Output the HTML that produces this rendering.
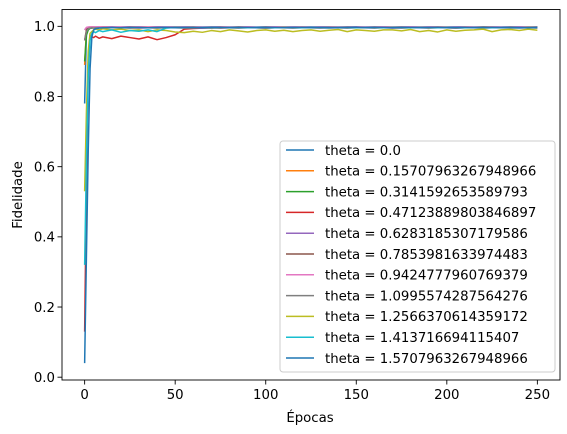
<!DOCTYPE html>
<html><head><meta charset="utf-8">
<style>
html,body{margin:0;padding:0;background:#fff;}
svg{display:block;font-family:"DejaVu Sans","Liberation Sans",sans-serif;}
</style></head>
<body>
<svg id="chart" width="567" height="434" viewBox="0 0 567 434">
<rect x="0" y="0" width="567" height="434" fill="#fff"/>
<g id="plot"></g>
<g id="axes"></g>
<g id="legend"></g>
<text x="310" y="422" font-size="13.3" text-anchor="middle">Épocas</text>
<text transform="translate(22,195) rotate(-90)" font-size="13.3" text-anchor="middle">Fidelidade</text>
</svg>
<script>
const epochs = [0,1,2,3,4,5,6,8,
10,15,20,25,30,35,40,45,50,55,60,65,70,75,80,85,90,95,100,105,110,115,120,125,130,135,140,145,150,155,160,165,170,175,180,185,190,195,200,205,210,215,220,225,230,235,240,245,250];
const thetaLabels = ["0.0","0.15707963267948966","0.3141592653589793","0.47123889803846897","0.6283185307179586","0.7853981633974483","0.9424777960769379","1.0995574287564276","1.2566370614359172","1.413716694115407","1.5707963267948966"];
const colors = ["#1f77b4","#ff7f0e","#2ca02c","#d62728","#9467bd","#8c564b","#e377c2","#7f7f7f","#bcbd22","#17becf","#1f77b4"];
const s0 = [0.78,0.985,0.995,0.997,0.998,0.997,0.998,0.998,
0.998,0.997,0.998,0.999,0.998,0.997,0.998,0.998,0.999,0.998,0.997,0.998,0.998,0.999,0.998,0.997,0.998,0.998,0.999,0.998,0.998,0.997,0.998,0.999,0.998,0.998,0.997,0.998,0.999,0.998,0.998,0.997,0.998,0.998,0.999,0.998,0.997,0.998,0.998,0.999,0.998,0.998,0.997,0.998,0.999,0.998,0.998,0.997,0.998];
const s1 = [0.89,0.99,0.996,0.997,0.998,0.998,0.997,0.998,
0.998,0.998,0.997,0.998,0.999,0.998,0.998,0.997,0.998,0.999,0.998,0.998,0.997,0.998,0.998,0.999,0.998,0.997,0.998,0.998,0.999,0.998,0.998,0.997,0.998,0.998,0.999,0.998,0.997,0.998,0.998,0.999,0.998,0.998,0.997,0.998,0.999,0.998,0.998,0.997,0.998,0.998,0.999,0.998,0.997,0.998,0.998,0.999,0.998];
const s2 = [0.90,0.975,0.99,0.994,0.995,0.996,0.995,0.996,
0.996,0.997,0.996,0.997,0.996,0.997,0.997,0.996,0.997,0.997,0.998,0.997,0.996,0.997,0.997,0.998,0.997,0.997,0.996,0.997,0.997,0.998,0.997,0.996,0.997,0.997,0.998,0.997,0.997,0.996,0.997,0.998,0.997,0.997,0.996,0.997,0.997,0.998,0.997,0.997,0.996,0.997,0.998,0.997,0.997,0.996,0.997,0.997,0.997];
const s3 = [0.13,0.55,0.90,0.975,0.970,0.968,0.972,0.966,
0.970,0.965,0.972,0.968,0.964,0.970,0.962,0.968,0.976,0.992,0.994,0.995,0.996,0.995,0.996,0.996,0.997,0.996,0.996,0.997,0.996,0.996,0.997,0.996,0.997,0.996,0.996,0.997,0.996,0.996,0.997,0.996,0.997,0.996,0.996,0.997,0.996,0.996,0.997,0.996,0.997,0.996,0.996,0.997,0.996,0.996,0.997,0.996,0.996];
const s4 = [0.99,0.996,0.997,0.996,0.997,0.996,0.997,0.996,
0.997,0.996,0.997,0.996,0.995,0.996,0.997,0.996,0.996,0.997,0.996,0.995,0.996,0.997,0.996,0.996,0.997,0.996,0.995,0.996,0.997,0.996,0.996,0.997,0.996,0.995,0.996,0.997,0.996,0.996,0.997,0.996,0.995,0.996,0.997,0.996,0.996,0.997,0.996,0.995,0.996,0.997,0.996,0.996,0.997,0.996,0.995,0.996,0.997];
const s5 = [0.96,0.99,0.996,0.997,0.997,0.998,0.997,0.997,
0.998,0.997,0.997,0.998,0.997,0.997,0.998,0.997,0.997,0.998,0.997,0.997,0.998,0.997,0.997,0.998,0.997,0.997,0.998,0.997,0.997,0.998,0.997,0.997,0.998,0.997,0.997,0.998,0.997,0.997,0.998,0.997,0.997,0.998,0.997,0.997,0.998,0.997,0.997,0.998,0.997,0.997,0.998,0.997,0.997,0.998,0.997,0.997,0.998];
const s6 = [0.99,0.997,0.998,0.999,0.998,0.999,0.998,0.999,
0.998,0.999,0.998,0.998,0.999,0.998,0.999,0.998,0.998,0.999,0.998,0.999,0.998,0.998,0.999,0.998,0.999,0.998,0.998,0.999,0.998,0.999,0.998,0.998,0.999,0.998,0.999,0.998,0.998,0.999,0.998,0.999,0.998,0.998,0.999,0.998,0.999,0.998,0.998,0.999,0.998,0.999,0.998,0.998,0.999,0.998,0.999,0.998,0.998];
const s7 = [0.96,0.985,0.993,0.995,0.996,0.995,0.996,0.996,
0.995,0.996,0.996,0.995,0.996,0.996,0.995,0.996,0.996,0.995,0.996,0.996,0.995,0.996,0.996,0.995,0.996,0.996,0.995,0.996,0.996,0.995,0.996,0.996,0.995,0.996,0.996,0.995,0.996,0.996,0.995,0.996,0.996,0.995,0.996,0.996,0.995,0.996,0.996,0.995,0.996,0.996,0.995,0.996,0.996,0.995,0.996,0.996,0.995];
const s8 = [0.53,0.76,0.93,0.98,0.985,0.99,0.992,0.99,
0.993,0.99,0.992,0.988,0.99,0.985,0.99,0.988,0.984,0.982,0.986,0.983,0.988,0.985,0.99,0.987,0.984,0.988,0.99,0.986,0.989,0.985,0.988,0.99,0.986,0.989,0.991,0.985,0.99,0.988,0.986,0.99,0.99,0.987,0.991,0.985,0.988,0.984,0.99,0.986,0.989,0.99,0.992,0.985,0.99,0.991,0.988,0.992,0.989];
const s9 = [0.32,0.62,0.86,0.96,0.98,0.985,0.982,0.988,
0.985,0.99,0.983,0.988,0.986,0.99,0.985,0.995,0.997,0.997,0.996,0.997,0.997,0.996,0.997,0.997,0.996,0.997,0.997,0.996,0.997,0.997,0.996,0.997,0.997,0.996,0.997,0.997,0.996,0.997,0.997,0.996,0.997,0.997,0.996,0.997,0.997,0.996,0.997,0.997,0.996,0.997,0.997,0.996,0.997,0.997,0.996,0.997,0.997];
const s10 = [0.04,0.35,0.65,0.88,0.97,0.99,0.993,0.995,
0.996,0.997,0.996,0.997,0.997,0.996,0.997,0.997,0.996,0.997,0.997,0.996,0.997,0.997,0.996,0.997,0.997,0.996,0.997,0.997,0.996,0.997,0.997,0.996,0.997,0.997,0.996,0.997,0.997,0.996,0.997,0.997,0.996,0.997,0.997,0.996,0.997,0.997,0.996,0.997,0.997,0.996,0.997,0.997,0.996,0.997,0.997,0.996,0.997];
const series = [s0,s1,s2,s3,s4,s5,s6,s7,s8,s9,s10];
const xTicks = [0,50,100,150,200,250];
const yTicks = [0.0,0.2,0.4,0.6,0.8,1.0];
const yTickLabels = ["0.0","0.2","0.4","0.6","0.8","1.0"];

const NS="http://www.w3.org/2000/svg";
const L=62,R=560,T=9.5,B=380;
const xMin=-12.5,xMax=262.5,yMin=-0.008,yMax=1.048;
const X=v=>L+(v-xMin)/(xMax-xMin)*(R-L);
const Y=v=>B-(v-yMin)/(yMax-yMin)*(B-T);
function mk(tag,attrs,parent){const e=document.createElementNS(NS,tag);for(const k in attrs)e.setAttribute(k,attrs[k]);parent.appendChild(e);return e;}

const plot=document.getElementById('plot');
series.forEach((ys,si)=>{
  const n=Math.min(ys.length,epochs.length);
  let d='';
  for(let i=0;i<n;i++)d+=(i?'L':'M')+X(epochs[i]).toFixed(2)+' '+Y(ys[i]).toFixed(2);
  const p=mk('path',{d:d,fill:'none',stroke:colors[si],'stroke-width':1.5,'stroke-linejoin':'round'},plot);
  
  
});

const axes=document.getElementById('axes');
const frame=mk('rect',{x:L,y:T,width:R-L,height:B-T,fill:'none',stroke:'#000','stroke-width':0.9},axes);


xTicks.forEach(t=>{
  const x=X(t);
  const tk=mk('line',{x1:x,x2:x,y1:B,y2:B+4.5,stroke:'#000','stroke-width':0.9},axes);
  
  
  const tx=mk('text',{x:x,y:B+19,'font-size':13.3,'text-anchor':'middle'},axes);
  tx.textContent=String(t);
  
  
});
yTicks.forEach((t,i)=>{
  const y=Y(t);
  const tk=mk('line',{x1:L-4.5,x2:L,y1:y,y2:y,stroke:'#000','stroke-width':0.9},axes);
  
  
  const tx=mk('text',{x:L-7,y:y+4.8,'font-size':13.3,'text-anchor':'end'},axes);
  tx.textContent=yTickLabels[i];
  
  
});

const lg=document.getElementById('legend');
const box=mk('rect',{x:280,y:141,width:275,height:231,rx:3,fill:'#fff','fill-opacity':0.8,stroke:'#ccc','stroke-width':1},lg);


thetaLabels.forEach((lab,i)=>{
  const y=150+i*20.8;
  const ln=mk('line',{x1:286,x2:314,y1:y,y2:y,stroke:colors[i],'stroke-width':1.5},lg);
  
  
  const tx=mk('text',{x:325,y:y+4.8,'font-size':13.3},lg);
  tx.textContent='theta = '+lab;
  
  
});
</script>
</body></html>
